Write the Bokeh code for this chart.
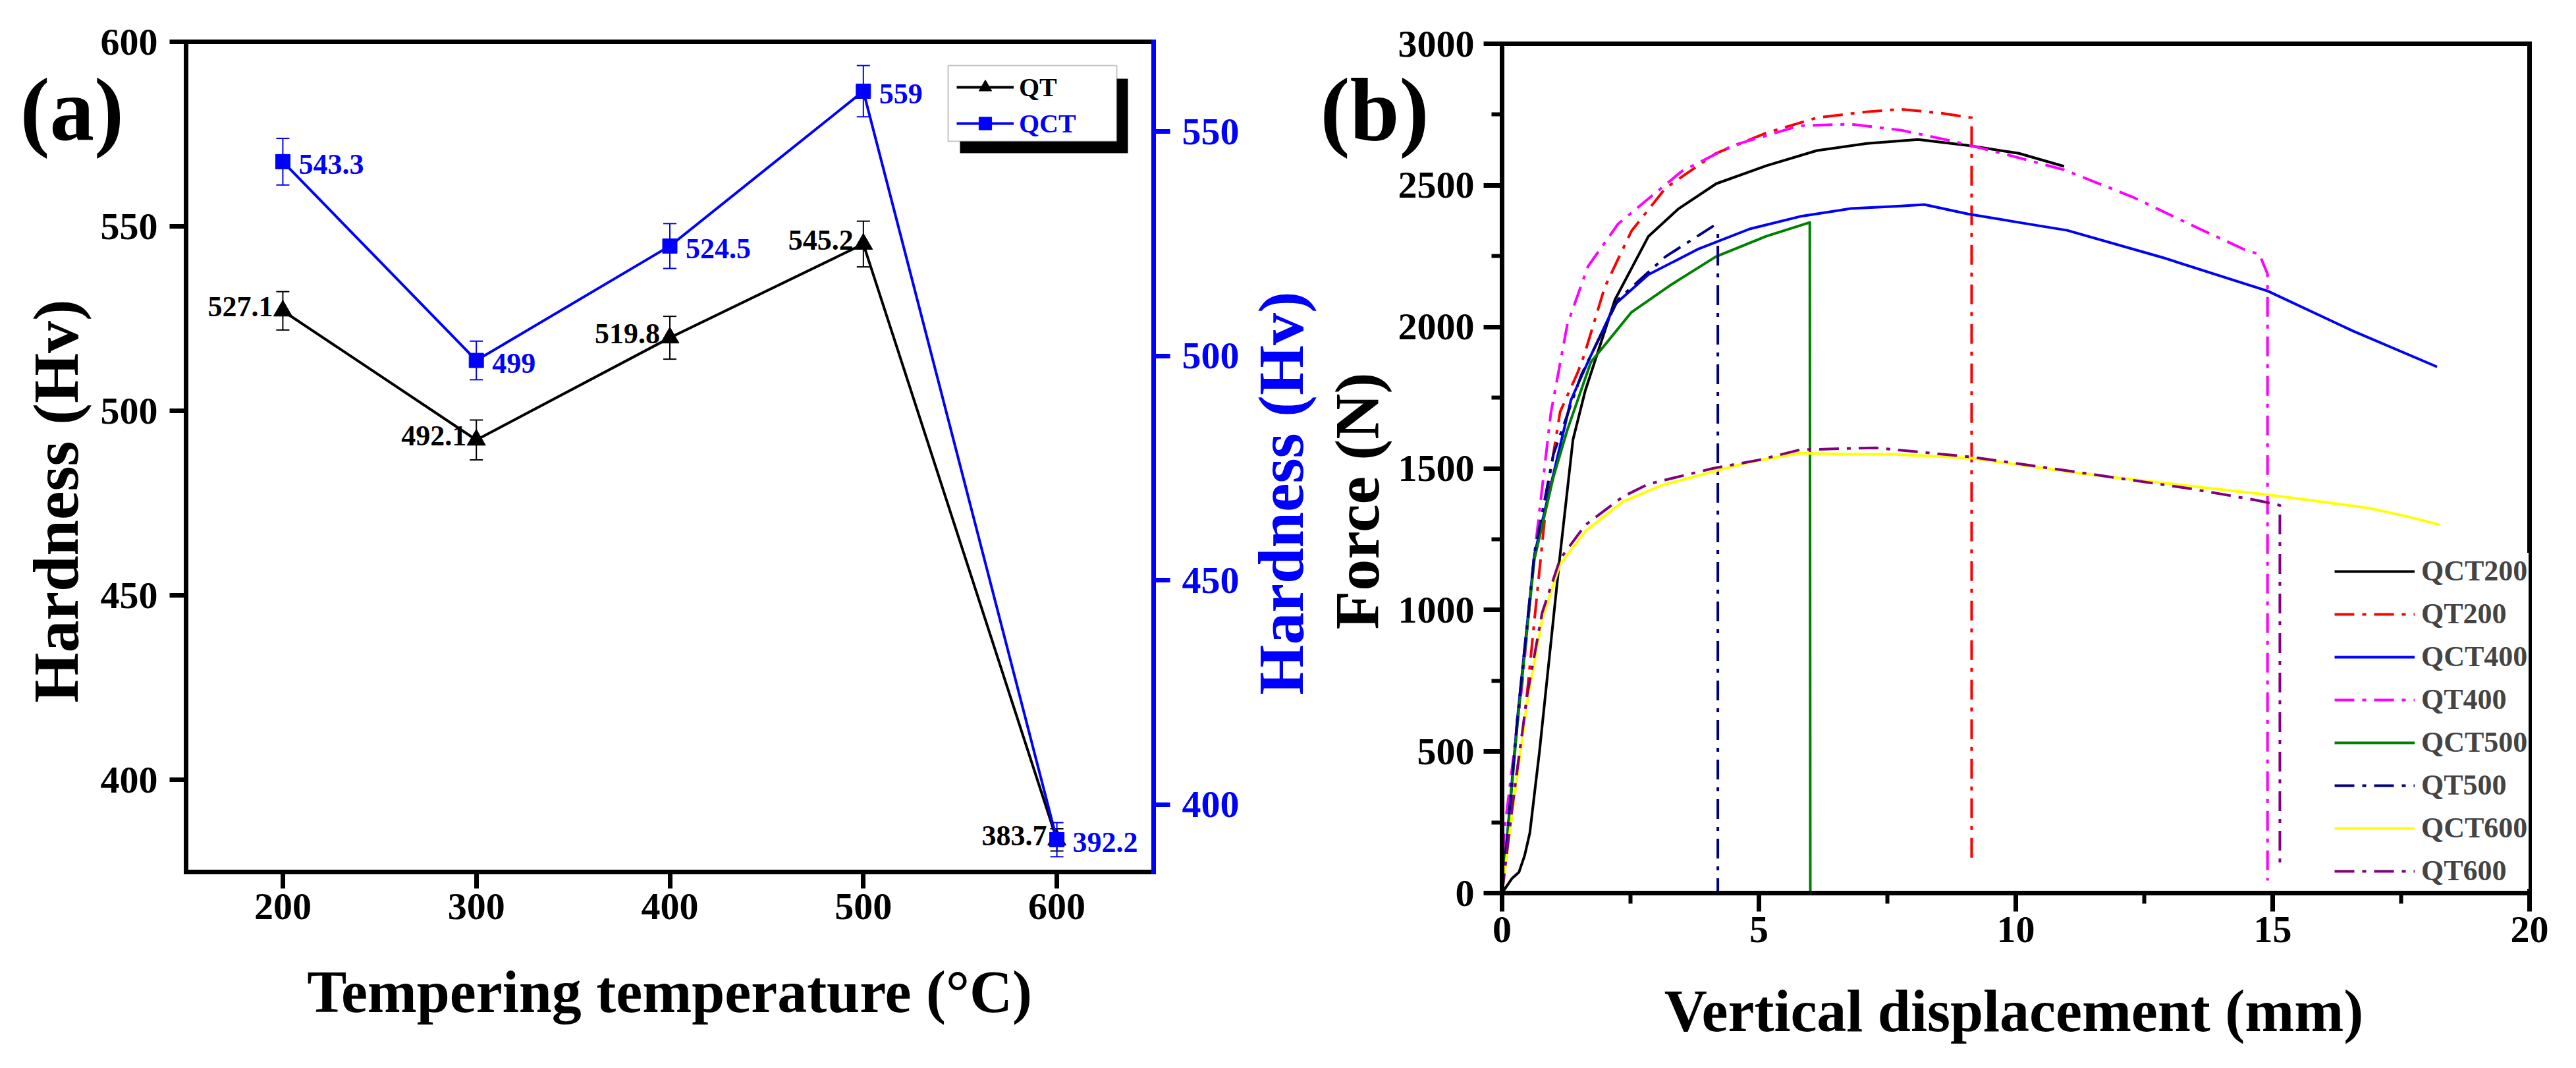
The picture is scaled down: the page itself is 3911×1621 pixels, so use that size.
import math
from bokeh.plotting import figure
from bokeh.models import (Range1d, LinearAxis, FixedTicker, Legend, LegendItem,
                          BoxAnnotation, Label)
from bokeh.layouts import row
from bokeh.embed import file_html
from bokeh.resources import INLINE
from bokeh.core.properties import value

FONT = "Liberation Serif"
BLUE = "#0000FF"

# ---------------- Panel (a): hardness vs tempering temperature ----------------
temps = [200, 300, 400, 500, 600]
qt_hv = [527.1, 492.1, 519.8, 545.2, 383.7]
qt_err = [5.2, 5.4, 5.8, 6.2, 3.0]
qct_hv = [543.3, 499.0, 524.5, 559.0, 392.2]
qct_err = [5.2, 4.3, 5.0, 5.7, 3.8]

a_xlim = (150, 650)
a_ylim_left = (375, 600)
a_ylim_right = (385, 570)
ticks_a_x = [200, 300, 400, 500, 600]
ticks_a_left = [400, 450, 500, 550, 600]
ticks_a_right = [400, 450, 500, 550]

# ---------------- Panel (b): force vs vertical displacement ----------------
qct200_x = [0, 0.19, 0.33, 0.44, 0.54, 0.73, 0.93, 1.13, 1.38, 1.62, 2.2, 2.85, 3.44, 4.17, 5.14, 6.13, 7.1, 8.1, 9.07, 10.06, 10.94]
qct200_y = [0, 51, 74, 133, 212, 503, 849, 1196, 1601, 1775, 2097, 2320, 2418, 2506, 2569, 2623, 2648, 2662, 2641, 2613, 2567]

qt200_x = [0, 0.09, 0.25, 0.44, 0.65, 0.89, 1.13, 1.47, 1.6, 2.0, 2.52, 3.18, 4.16, 5.14, 6.13, 7.1, 7.76, 8.55, 9.14, 9.14]
qt200_y = [0, 153, 380, 619, 1000, 1429, 1700, 1838, 1901, 2141, 2339, 2490, 2613, 2685, 2739, 2760, 2769, 2755, 2739, 98]

qct400_x = [0, 0.1, 0.3, 0.63, 1.0, 1.34, 1.67, 2.2, 2.85, 3.83, 4.82, 5.8, 6.79, 7.76, 8.22, 9.07, 10.06, 11.0, 12.84, 14.9, 16.57, 18.2]
qct400_y = [0, 200, 619, 1196, 1480, 1741, 1876, 2080, 2185, 2276, 2346, 2390, 2418, 2427, 2432, 2399, 2369, 2341, 2246, 2127, 1985, 1859]

qt400_x = [0, 0.04, 0.2, 0.39, 0.63, 0.95, 1.27, 1.67, 2.26, 2.85, 3.5, 4.49, 5.8, 6.79, 7.76, 8.75, 9.73, 10.94, 12.26, 13.5, 14.5, 14.74, 14.9, 14.9]
qt400_y = [0, 212, 450, 733, 1196, 1696, 2008, 2213, 2364, 2453, 2550, 2641, 2711, 2716, 2695, 2657, 2613, 2555, 2460, 2353, 2269, 2257, 2187, 44]

qct500_x = [0, 0.1, 0.3, 0.63, 1.0, 1.27, 1.73, 2.52, 3.3, 4.16, 5.14, 5.99, 6.0]
qct500_y = [0, 190, 600, 1180, 1470, 1636, 1876, 2052, 2150, 2248, 2320, 2369, 0]

qt500_x = [0, 0.1, 0.3, 0.63, 1.0, 1.54, 2.26, 3.18, 4.1, 4.2, 4.2]
qt500_y = [0, 200, 620, 1200, 1550, 1829, 2097, 2248, 2355, 2330, 0]

qct600_x = [0, 0.19, 0.49, 0.78, 1.13, 1.62, 2.35, 3.1, 4.18, 4.82, 5.8, 6.79, 7.6, 9.15, 11.27, 13.38, 14.86, 15.85, 16.9, 17.6, 18.25]
qct600_y = [0, 270, 675, 966, 1161, 1278, 1382, 1440, 1492, 1522, 1554, 1550, 1550, 1536, 1482, 1438, 1408, 1385, 1359, 1331, 1301]

qt600_x = [0, 0.19, 0.49, 0.78, 1.13, 1.62, 2.35, 2.85, 4.1, 5.0, 5.8, 7.27, 9.15, 11.27, 13.38, 14.65, 15.14, 15.14]
qt600_y = [0, 290, 700, 990, 1180, 1300, 1400, 1445, 1500, 1530, 1566, 1573, 1540, 1485, 1429, 1389, 1370, 98]

series_names = ["QCT200", "QT200", "QCT400", "QT400", "QCT500", "QT500", "QCT600", "QT600"]
series_colors = ["black", "#FF0000", "#0000FF", "#FF00FF", "#008000", "#000080", "#FFFF00", "#800080"]

b_xlim = (0, 20)
b_ylim = (0, 3000)
ticks_b_x = [0, 5, 10, 15, 20]
minor_b_x = [2.5, 7.5, 12.5, 17.5]
ticks_b_y = [0, 500, 1000, 1500, 2000, 2500, 3000]
minor_b_y = [250, 750, 1250, 1750, 2250, 2750]

DASHDOT = "30 12 6 12"

# ---------------- layout (canvas pixels) ----------------
A_W, A_H = 2000, 1600
A_BOX = (282, 1751, 63, 1323)      # left, right, top, bottom of the data box
B_W, B_H = 1895, 1600
B_BOX = (280, 1840, 66, 1355)


def full_range(lim, p_lo, p_hi, total):
    """Range spanning the whole canvas so that lim[0] sits at p_lo and lim[1] at p_hi
    (pixels measured in the direction of increasing values)."""
    k = (lim[1] - lim[0]) / (p_hi - p_lo)
    return lim[0] - p_lo * k, lim[1] + (total - p_hi) * k


class Canvas:
    def __init__(self, xr, yr, w, h):
        self.xr, self.yr, self.w, self.h = xr, yr, w, h

    def x(self, px):
        return self.xr[0] + px * (self.xr[1] - self.xr[0]) / self.w

    def y(self, py):  # py from the top of the canvas
        return self.yr[1] - py * (self.yr[1] - self.yr[0]) / self.h


def style_axis(ax, color="black", tick_out=25, minor_out=0, lw=7, font_px=58, label_standoff=12):
    ax.axis_line_color = color
    ax.axis_line_width = lw
    ax.axis_line_cap = "square"
    ax.major_tick_line_color = color
    ax.major_tick_line_width = lw
    ax.major_tick_out = tick_out
    ax.major_tick_in = 0
    if minor_out:
        ax.minor_tick_line_color = color
        ax.minor_tick_line_width = lw - 1
        ax.minor_tick_out = minor_out
        ax.minor_tick_in = 0
    else:
        ax.minor_tick_line_color = None
    ax.major_label_text_font = FONT
    ax.major_label_text_font_style = "bold"
    ax.major_label_text_font_size = f"{font_px}px"
    ax.major_label_text_color = color
    ax.major_label_standoff = label_standoff


def text_label(p, x, y, text, size, color="black", angle=0.0, align="left",
               baseline="alphabetic"):
    p.add_layout(Label(x=x, y=y, text=text, angle=angle, text_align=align,
                       text_baseline=baseline, text_font=FONT, text_font_style="bold",
                       text_font_size=size, text_color=color))


def new_fig(w, h, xr, yr):
    p = figure(width=w, height=h, x_range=Range1d(*xr), y_range=Range1d(*yr),
               x_axis_type=None, y_axis_type=None,
               output_backend="svg", toolbar_location=None,
               min_border_left=0, min_border_right=0, min_border_top=0, min_border_bottom=0)
    p.title.visible = False
    p.xgrid.visible = False
    p.ygrid.visible = False
    p.outline_line_color = None
    return p


# ============================ Panel (a) ============================
a_xr = full_range(a_xlim, A_BOX[0], A_BOX[1], A_W)
a_yr = full_range(a_ylim_left, A_H - A_BOX[3], A_H - A_BOX[2], A_H)
a_yr_right = full_range(a_ylim_right, A_H - A_BOX[3], A_H - A_BOX[2], A_H)
ca = Canvas(a_xr, a_yr, A_W, A_H)

pa = new_fig(A_W, A_H, a_xr, a_yr)
pa.extra_y_ranges = {"right": Range1d(*a_yr_right)}

ax_b = LinearAxis(ticker=FixedTicker(ticks=ticks_a_x), fixed_location=a_ylim_left[0], bounds=a_xlim)
style_axis(ax_b, label_standoff=8)
pa.add_layout(ax_b, "below")
ax_t = LinearAxis(ticker=FixedTicker(ticks=[]), fixed_location=a_ylim_left[1], bounds=a_xlim)
style_axis(ax_t)
pa.add_layout(ax_t, "above")
ax_l = LinearAxis(ticker=FixedTicker(ticks=ticks_a_left), fixed_location=a_xlim[0], bounds=a_ylim_left)
style_axis(ax_l, label_standoff=18)
pa.add_layout(ax_l, "left")
ax_r = LinearAxis(y_range_name="right", ticker=FixedTicker(ticks=ticks_a_right),
                  fixed_location=a_xlim[1], bounds=a_ylim_right)
style_axis(ax_r, color=BLUE, label_standoff=18)
pa.add_layout(ax_r, "right")

# error bars
qt_lo = [v - e for v, e in zip(qt_hv, qt_err)]
qt_hi = [v + e for v, e in zip(qt_hv, qt_err)]
qct_lo = [v - e for v, e in zip(qct_hv, qct_err)]
qct_hi = [v + e for v, e in zip(qct_hv, qct_err)]

pa.segment(x0=temps, y0=qt_lo, x1=temps, y1=qt_hi, line_color="black", line_width=2)
pa.scatter(x=temps + temps, y=qt_lo + qt_hi, marker="dash", size=20, line_color="black", line_width=2)
pa.segment(x0=temps, y0=qct_lo, x1=temps, y1=qct_hi, line_color=BLUE, line_width=2,
           y_range_name="right")
pa.scatter(x=temps + temps, y=qct_lo + qct_hi, marker="dash", size=20, line_color=BLUE,
           line_width=2, y_range_name="right")

qt_line = pa.line(temps, qt_hv, line_color="black", line_width=4)
qt_pts = pa.scatter(temps, qt_hv, marker="triangle", size=28, fill_color="black", line_color="black")
qct_line = pa.line(temps, qct_hv, line_color=BLUE, line_width=4, y_range_name="right")
qct_pts = pa.scatter(temps, qct_hv, marker="square", size=22, fill_color=BLUE,
                     line_color=BLUE, y_range_name="right")

qt_labels = [f"{v:g}" for v in qt_hv]
qct_labels = [f"{v:g}" for v in qct_hv]
pa.text(x=temps, y=qt_hv, text=qt_labels, text_align="right", text_baseline="middle",
        x_offset=-15, y_offset=-6, text_font=value(FONT), text_font_style="bold",
        text_font_size="44px", text_color="black")
pa.text(x=temps, y=qct_hv, text=qct_labels, text_align="left", text_baseline="middle",
        x_offset=24, y_offset=4, text_font=value(FONT), text_font_style="bold",
        text_font_size="44px", text_color=BLUE, y_range_name="right")

# legend: shadow, white box, one legend per entry (label colours differ)
pa.add_layout(BoxAnnotation(left=ca.x(1457), right=ca.x(1712), top=ca.y(119), bottom=ca.y(232),
                            fill_color="black", fill_alpha=1.0, line_color=None))
pa.add_layout(BoxAnnotation(left=ca.x(1439), right=ca.x(1695), top=ca.y(99), bottom=ca.y(214),
                            fill_color="white", fill_alpha=1.0, line_color="#404040",
                            line_width=2))
for lab, rends, col, loc in [("QT", [qt_line, qt_pts], "black", (1452, A_H - 156)),
                             ("QCT", [qct_line, qct_pts], BLUE, (1452, A_H - 211))]:
    lg = Legend(items=[LegendItem(label=lab, renderers=rends)], location=loc,
                border_line_color=None, background_fill_alpha=0.0,
                glyph_width=87, glyph_height=48, label_height=48, padding=0, spacing=0,
                label_standoff=8, label_text_font=FONT, label_text_font_style="bold",
                label_text_font_size="40px", label_text_color=col)
    pa.add_layout(lg)

# titles and panel tag
text_label(pa, ca.x(30), ca.y(166), "(a)", "135px")
text_label(pa, ca.x(1016), ca.y(1505), "Tempering temperature (°C)", "90px", align="center")
text_label(pa, ca.x(84), ca.y(760), "Hardness (Hv)", "98px", angle=math.pi / 2, align="center")
text_label(pa, ca.x(1944), ca.y(748), "Hardness (Hv)", "98px", color=BLUE,
           angle=math.pi / 2, align="center")

# ============================ Panel (b) ============================
b_xr = full_range(b_xlim, B_BOX[0], B_BOX[1], B_W)
b_yr = full_range(b_ylim, B_H - B_BOX[3], B_H - B_BOX[2], B_H)
cb = Canvas(b_xr, b_yr, B_W, B_H)

pb = new_fig(B_W, B_H, b_xr, b_yr)

series_x = [qct200_x, qt200_x, qct400_x, qt400_x, qct500_x, qt500_x, qct600_x, qt600_x]
series_y = [qct200_y, qt200_y, qct400_y, qt400_y, qct500_y, qt500_y, qct600_y, qt600_y]
items_b = []
for name, xs, ys, col in zip(series_names, series_x, series_y, series_colors):
    dash = "solid" if name.startswith("QCT") else DASHDOT
    r = pb.line(xs, ys, line_color=col, line_width=4, line_dash=dash, line_join="round")
    items_b.append(LegendItem(label=name, renderers=[r]))

leg_b = Legend(items=items_b, location=(1542, B_H - 1349), border_line_alpha=0.0,
               background_fill_color="white", background_fill_alpha=1.0,
               glyph_width=122, glyph_height=50, label_height=50, spacing=14, padding=2,
               label_standoff=10, label_text_font=FONT, label_text_font_style="bold",
               label_text_font_size="44px")
pb.add_layout(leg_b)

bx_b = LinearAxis(ticker=FixedTicker(ticks=ticks_b_x, minor_ticks=minor_b_x),
                  fixed_location=b_ylim[0], bounds=b_xlim)
style_axis(bx_b, tick_out=28, minor_out=16, label_standoff=8)
bx_b.level = "overlay"
pb.add_layout(bx_b, "below")
bx_l = LinearAxis(ticker=FixedTicker(ticks=ticks_b_y, minor_ticks=minor_b_y),
                  fixed_location=b_xlim[0], bounds=b_ylim)
style_axis(bx_l, tick_out=28, minor_out=16, label_standoff=14)
pb.add_layout(bx_l, "left")
bx_t = LinearAxis(ticker=FixedTicker(ticks=[]), fixed_location=b_ylim[1], bounds=b_xlim)
style_axis(bx_t)
pb.add_layout(bx_t, "above")
bx_r = LinearAxis(ticker=FixedTicker(ticks=[]), fixed_location=b_xlim[1], bounds=b_ylim)
style_axis(bx_r)
bx_r.level = "overlay"
pb.add_layout(bx_r, "right")

text_label(pb, cb.x(4), cb.y(166), "(b)", "135px")
text_label(pb, cb.x(1057), cb.y(1534), "Vertical displacement (mm)", "90px", align="center")
text_label(pb, cb.x(60), cb.y(760), "Force (N)", "96px", angle=math.pi / 2, align="center")

layout = row(pa, pb)
open("out.html", "w").write(file_html(layout, INLINE))
